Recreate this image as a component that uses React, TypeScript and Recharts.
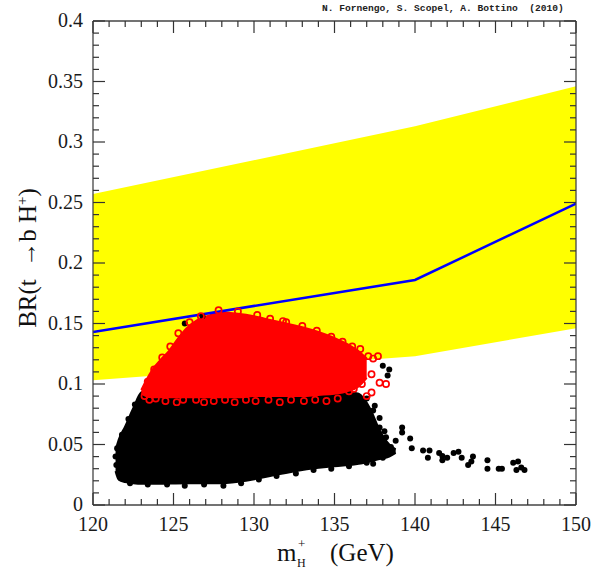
import React from "react";
import {
  ComposedChart,
  XAxis,
  YAxis,
  Area,
  Line,
  Scatter,
} from "recharts";

// experimental band on BR(t -> b H+)
const BAND_X = [120, 140, 150];
const BAND_LOW = [0.103, 0.123, 0.146];
const BAND_HIGH = [0.257, 0.313, 0.346];

// blue limit curve
const LIMIT_X = [120, 140, 150];
const LIMIT_BR = [0.143, 0.186, 0.249];

// dense black cloud, envelope
const BLACK_CORE_X = [121.4, 121.6, 122.0, 122.5, 123.0, 123.5, 126.0, 128.0, 129.5, 131.0, 133.0, 135.0, 136.5, 137.2, 137.8, 138.4, 138.8];
const BLACK_CORE_LOW = [0.028, 0.021, 0.019, 0.018, 0.0175, 0.0175, 0.018, 0.018, 0.02, 0.024, 0.029, 0.032, 0.034, 0.036, 0.038, 0.04, 0.043];
const BLACK_CORE_HIGH = [0.045, 0.054, 0.065, 0.08, 0.093, 0.095, 0.095, 0.095, 0.095, 0.095, 0.095, 0.095, 0.092, 0.08, 0.062, 0.05, 0.046];

// dense red cloud, envelope
const RED_CORE_X = [123.0, 123.3, 123.7, 124.2, 124.7, 125.3, 125.8, 126.5, 127.3, 128.0, 129.0, 130.0, 131.0, 132.0, 133.0, 134.0, 135.0, 135.8, 136.5, 137.0];
const RED_CORE_LOW = [0.092, 0.09, 0.089, 0.089, 0.089, 0.089, 0.089, 0.089, 0.089, 0.089, 0.089, 0.09, 0.09, 0.09, 0.09, 0.091, 0.092, 0.094, 0.098, 0.105];
const RED_CORE_HIGH = [0.095, 0.103, 0.112, 0.12, 0.127, 0.138, 0.146, 0.153, 0.157, 0.159, 0.158, 0.156, 0.153, 0.15, 0.147, 0.143, 0.138, 0.133, 0.127, 0.121];

// single black points (edges and tail)
const BLACK_PTS_X = [
  138.4, 138.3, 138.0, 137.4, 137.8, 138.1, 139.2, 139.2, 138.8, 139.7, 139.8, 140.5, 140.9, 141.5, 140.8, 142.0, 137.4, 136.9,
  141.7, 141.7, 142.4, 142.7, 142.9, 143.6, 143.5, 143.3, 144.5, 144.5, 145.2, 145.4, 146.1, 146.4, 146.3, 146.8, 146.6,
  121.4, 121.5, 121.45, 121.8, 122.2, 122.6,
  122.3, 123.4, 124.6, 125.7, 126.9, 128.1, 129.2, 130.3, 131.4, 132.6, 133.7, 134.8, 135.9, 137.0, 138.0,
  138.5, 138.2, 137.8, 137.5, 137.0, 126.8, 125.7,
];
const BLACK_PTS_Y = [
  0.112, 0.107, 0.115, 0.078, 0.072, 0.061, 0.064, 0.06, 0.053, 0.055, 0.047, 0.045, 0.045, 0.043, 0.039, 0.039, 0.034, 0.038,
  0.0405, 0.037, 0.043, 0.044, 0.039, 0.04, 0.036, 0.033, 0.037, 0.03, 0.03, 0.03, 0.035, 0.036, 0.029, 0.029, 0.031,
  0.04, 0.047, 0.033, 0.058, 0.071, 0.083,
  0.018, 0.017, 0.017, 0.016, 0.017, 0.016, 0.018, 0.021, 0.024, 0.026, 0.029, 0.03, 0.032, 0.035, 0.039,
  0.048, 0.056, 0.064, 0.082, 0.088, 0.156, 0.15,
];

// single red open circles (edges of the red cloud)
const RED_PTS_X = [
  123.2, 123.5, 123.9, 124.5, 125.2, 125.6, 126.4, 126.9, 127.5, 128.2, 128.8, 129.5, 130.1, 130.9, 131.6, 132.3, 133.1, 133.8, 134.5, 135.2,
  135.9, 136.2, 136.7, 137.0, 137.3,
  137.3, 137.8, 138.2, 137.7, 137.4, 137.1, 136.6, 136.1, 135.5, 134.8, 133.9, 133.0,
  132.0, 131.0, 130.2, 129.0, 127.8, 126.7, 126.0, 125.3, 124.8, 124.3, 123.8, 123.4, 131.8,
];
const RED_PTS_Y = [
  0.09, 0.087, 0.088, 0.086, 0.085, 0.087, 0.087, 0.085, 0.086, 0.087, 0.085, 0.087, 0.086, 0.087, 0.085, 0.087, 0.086, 0.087, 0.086, 0.088,
  0.094, 0.096, 0.1, 0.09, 0.093,
  0.108, 0.101, 0.1, 0.123, 0.121, 0.123, 0.129, 0.131, 0.135, 0.139, 0.144, 0.148,
  0.151, 0.154, 0.157, 0.16, 0.161, 0.156, 0.151, 0.142, 0.131, 0.122, 0.112, 0.102, 0.152,
];

// axis ticks
const X_MAJOR = [120, 125, 130, 135, 140, 145, 150];
const X_MINOR = [120, 121, 122, 123, 124, 125, 126, 127, 128, 129, 130, 131, 132, 133, 134, 135, 136, 137, 138, 139, 140, 141, 142, 143, 144, 145, 146, 147, 148, 149, 150];
const Y_MAJOR = [0, 0.05, 0.1, 0.15, 0.2, 0.25, 0.3, 0.35, 0.4];
const Y_MINOR = [
  0, 0.01, 0.02, 0.03, 0.04, 0.05, 0.06, 0.07, 0.08, 0.09, 0.1, 0.11, 0.12, 0.13, 0.14, 0.15, 0.16, 0.17, 0.18, 0.19, 0.2,
  0.21, 0.22, 0.23, 0.24, 0.25, 0.26, 0.27, 0.28, 0.29, 0.3, 0.31, 0.32, 0.33, 0.34, 0.35, 0.36, 0.37, 0.38, 0.39, 0.4,
];

const bandData = BAND_X.map((x, i) => ({ x, range: [BAND_LOW[i], BAND_HIGH[i]] }));
const limitData = LIMIT_X.map((x, i) => ({ x, y: LIMIT_BR[i] }));
const blackCore = BLACK_CORE_X.map((x, i) => ({ x, range: [BLACK_CORE_LOW[i], BLACK_CORE_HIGH[i]] }));
const redCore = RED_CORE_X.map((x, i) => ({ x, range: [RED_CORE_LOW[i], RED_CORE_HIGH[i]] }));
const blackPts = BLACK_PTS_X.map((x, i) => ({ x, y: BLACK_PTS_Y[i] }));
const redPts = RED_PTS_X.map((x, i) => ({ x, y: RED_PTS_Y[i] }));

const FONT = "'Liberation Serif', 'Times New Roman', serif";
const TICK_COLOR = "#333";
const labelStyle = { fontFamily: FONT, fontSize: 20 };
const isMajor = (list: number[], v: number) => list.some((m) => Math.abs(m - v) < 1e-6);

const BottomTick = (props: any) => {
  const { x, y, payload } = props;
  const major = isMajor(X_MAJOR, payload.value);
  return (
    <g>
      <line x1={x} y1={y} x2={x} y2={y - (major ? 12 : 6)} stroke={TICK_COLOR} strokeWidth={1.2} />
      {major && (
        <text x={x} y={y + 26} textAnchor="middle" style={labelStyle} fill="#1a1a1a">
          {payload.value}
        </text>
      )}
    </g>
  );
};

const TopTick = (props: any) => {
  const { x, y, payload } = props;
  const major = isMajor(X_MAJOR, payload.value);
  return <line x1={x} y1={y} x2={x} y2={y + (major ? 12 : 6)} stroke={TICK_COLOR} strokeWidth={1.2} />;
};

const LeftTick = (props: any) => {
  const { x, y, payload } = props;
  const major = isMajor(Y_MAJOR, payload.value);
  return (
    <g>
      <line x1={x} y1={y} x2={x + (major ? 12 : 6)} y2={y} stroke={TICK_COLOR} strokeWidth={1.2} />
      {major && (
        <text x={x - 10} y={y + 6} textAnchor="end" style={labelStyle} fill="#1a1a1a">
          {String(payload.value)}
        </text>
      )}
    </g>
  );
};

const RightTick = (props: any) => {
  const { x, y, payload } = props;
  const major = isMajor(Y_MAJOR, payload.value);
  return <line x1={x} y1={y} x2={x - (major ? 12 : 6)} y2={y} stroke={TICK_COLOR} strokeWidth={1.2} />;
};

const Dot = (p: any) => <circle cx={p.cx} cy={p.cy} r={3} fill="#000" />;
const Ring = (p: any) => <circle cx={p.cx} cy={p.cy} r={3.1} fill="none" stroke="#ff0000" strokeWidth={1.7} />;

const axisLine = { stroke: "#444", strokeWidth: 1.3 };

export default function App() {
  return (
    <div style={{ position: "absolute", left: 0, top: 0, width: 592, height: 572, background: "#fff" }}>
      <ComposedChart width={592} height={572} margin={{ top: 20, right: 15, bottom: 0, left: 0 }}>
        <XAxis
          xAxisId="b"
          type="number"
          dataKey="x"
          domain={[120, 150]}
          ticks={X_MINOR}
          interval={0}
          height={67}
          tickSize={0}
          tickMargin={0}
          tickLine={false}
          axisLine={axisLine}
          tick={<BottomTick />}
          allowDataOverflow
        />
        <XAxis
          xAxisId="t"
          orientation="top"
          type="number"
          dataKey="x"
          domain={[120, 150]}
          ticks={X_MINOR}
          interval={0}
          height={1}
          tickSize={0}
          tickMargin={0}
          tickLine={false}
          axisLine={axisLine}
          tick={<TopTick />}
          allowDataOverflow
        />
        <YAxis
          yAxisId="l"
          type="number"
          domain={[0, 0.4]}
          ticks={Y_MINOR}
          interval={0}
          width={93}
          tickSize={0}
          tickMargin={0}
          tickLine={false}
          axisLine={axisLine}
          tick={<LeftTick />}
          allowDataOverflow
        />
        <YAxis
          yAxisId="r"
          orientation="right"
          type="number"
          domain={[0, 0.4]}
          ticks={Y_MINOR}
          interval={0}
          width={1}
          tickSize={0}
          tickMargin={0}
          tickLine={false}
          axisLine={axisLine}
          tick={<RightTick />}
          allowDataOverflow
        />

        {/* yellow band */}
        <Area
          xAxisId="b"
          yAxisId="l"
          data={bandData}
          dataKey="range"
          type="linear"
          fill="#ffff00"
          fillOpacity={1}
          stroke="none"
          isAnimationActive={false}
        />

        {/* black points: dense part + single dots */}
        <Area
          xAxisId="b"
          yAxisId="l"
          data={blackCore}
          dataKey="range"
          type="monotone"
          fill="#000"
          fillOpacity={1}
          stroke="#000"
          strokeWidth={2}
          isAnimationActive={false}
        />
        <Scatter
          xAxisId="b"
          yAxisId="l"
          data={blackPts}
          dataKey="y"
          shape={<Dot />}
          isAnimationActive={false}
        />

        {/* red points: dense part + open circles */}
        <Area
          xAxisId="b"
          yAxisId="l"
          data={redCore}
          dataKey="range"
          type="monotone"
          fill="#ff0000"
          fillOpacity={1}
          stroke="#ff0000"
          strokeWidth={2}
          isAnimationActive={false}
        />
        <Scatter
          xAxisId="b"
          yAxisId="l"
          data={redPts}
          dataKey="y"
          shape={<Ring />}
          isAnimationActive={false}
        />

        {/* blue curve */}
        <Line
          xAxisId="b"
          yAxisId="l"
          data={limitData}
          dataKey="y"
          type="linear"
          stroke="#0000ff"
          strokeWidth={2.5}
          dot={false}
          isAnimationActive={false}
        />
      </ComposedChart>

      <div
        style={{
          position: "absolute",
          left: 322,
          top: 3,
          fontFamily: "'Liberation Mono', monospace",
          fontWeight: "bold",
          fontSize: 9.6,
          color: "#222",
          whiteSpace: "pre",
        }}
      >
        N. Fornengo, S. Scopel, A. Bottino  (2010)
      </div>

      <div
        style={{
          position: "absolute",
          left: 27,
          top: 258,
          transform: "translate(-50%, -50%) rotate(-90deg)",
          fontFamily: FONT,
          fontSize: 25,
          color: "#111",
          whiteSpace: "pre",
          lineHeight: 1,
        }}
      >
        BR(t  →b H<sup style={{ fontSize: 15, verticalAlign: "0.55em", lineHeight: 0 }}>+</sup>)
      </div>

      <div style={{ position: "absolute", left: 277, top: 540, fontFamily: FONT, fontSize: 25, color: "#111", lineHeight: 1 }}>
        m
      </div>
      <div style={{ position: "absolute", left: 298, top: 537, fontFamily: FONT, fontSize: 13, color: "#111", lineHeight: 1 }}>
        +
      </div>
      <div style={{ position: "absolute", left: 297, top: 557, fontFamily: FONT, fontSize: 12, color: "#111", lineHeight: 1 }}>
        H
      </div>
      <div style={{ position: "absolute", left: 330, top: 540, fontFamily: FONT, fontSize: 25, color: "#111", lineHeight: 1 }}>
        (GeV)
      </div>
    </div>
  );
}
